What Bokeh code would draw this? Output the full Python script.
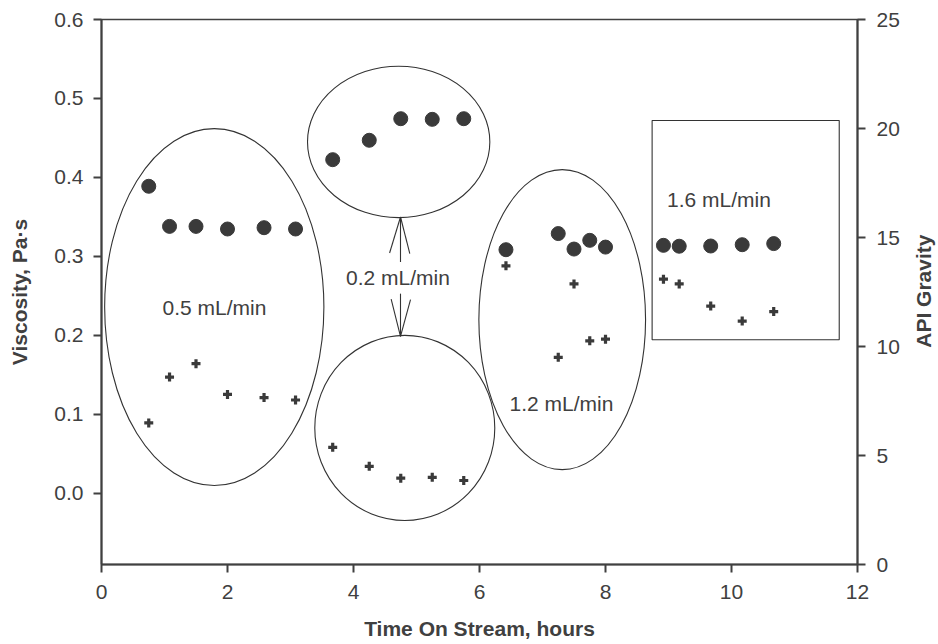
import math
from bokeh.plotting import figure
from bokeh.layouts import row
from bokeh.models import Range1d, LinearAxis, FixedTicker, NumeralTickFormatter
from bokeh.embed import file_html
from bokeh.resources import INLINE
from bokeh.core.properties import value

# ---- data ----
time_h = [0.75, 1.08, 1.50, 2.00, 2.58, 3.08, 3.67, 4.25, 4.75, 5.25, 5.75,
          6.42, 7.25, 7.50, 7.75, 8.00, 8.92, 9.17, 9.67, 10.17, 10.67]
api_gravity = [17.35, 15.51, 15.51, 15.39, 15.45, 15.39, 18.57, 19.46, 20.45, 20.42, 20.45,
               14.44, 15.18, 14.47, 14.87, 14.56, 14.64, 14.60, 14.61, 14.67, 14.72]
viscosity = [0.089, 0.147, 0.164, 0.125, 0.121, 0.118, 0.058, 0.034, 0.019, 0.020, 0.016,
             0.288, 0.172, 0.265, 0.193, 0.195, 0.271, 0.265, 0.237, 0.218, 0.230]

x_ticks = [0, 2, 4, 6, 8, 10, 12]
visc_ticks = [0.0, 0.1, 0.2, 0.3, 0.4, 0.5, 0.6]
api_ticks = [0, 5, 10, 15, 20, 25]

x_title = "Time On Stream, hours"
left_title = "Viscosity, Pa\u00b7s"
right_title = "API Gravity"

# annotation groups (in time / viscosity units)
ell_x = [1.79, 4.717, 4.814, 7.313]
ell_y = [0.2357, 0.4449, 0.0826, 0.2198]
ell_w = [3.48, 2.894, 2.857, 2.646]
ell_h = [0.452, 0.1918, 0.2345, 0.380]

box_left, box_right, box_top, box_bottom = [8.74], [11.71], [0.472], [0.1944]

label_text = ["0.5 mL/min", "0.2 mL/min", "1.2 mL/min", "1.6 mL/min"]
label_x = [1.794, 4.706, 7.30, 9.80]
label_y = [0.2357, 0.273, 0.114, 0.372]

# arrow segments (shafts and open heads)
arr_x0 = [4.746, 4.573, 4.894, 4.746, 4.598, 4.905]
arr_y0 = [0.2928, 0.3042, 0.3034, 0.2527, 0.2459, 0.2451]
arr_x1 = [4.746, 4.746, 4.746, 4.746, 4.746, 4.746]
arr_y1 = [0.3498, 0.3498, 0.3498, 0.1986, 0.1986, 0.1986]

INK = "#404040"
MARK = "#3a3a3a"
FONT = "Liberation Sans"

p = figure(width=905, height=644, output_backend="svg", toolbar_location=None,
           x_range=Range1d(0, 12), y_range=Range1d(-0.0904, 0.6),
           min_border_left=101, min_border_right=48, min_border_top=19, min_border_bottom=80)
p.extra_y_ranges = {"api": Range1d(0, 25)}

p.xgrid.visible = False
p.ygrid.visible = False
p.outline_line_color = INK
p.outline_line_width = 1.6
p.background_fill_color = "white"
p.border_fill_color = "white"

# axes
p.xaxis.ticker = FixedTicker(ticks=x_ticks)
p.yaxis.ticker = FixedTicker(ticks=visc_ticks)
p.yaxis.formatter = NumeralTickFormatter(format="0.0")
p.yaxis.axis_label = left_title
p.xaxis.axis_label = x_title

right = LinearAxis(y_range_name="api", ticker=FixedTicker(ticks=api_ticks))
p.add_layout(right, "right")

for ax in [p.xaxis[0], p.yaxis[0], right]:
    ax.axis_line_color = INK
    ax.axis_line_width = 2
    ax.major_tick_line_color = INK
    ax.major_tick_line_width = 2
    ax.major_tick_out = 8
    ax.major_tick_in = 0
    ax.minor_tick_line_color = None
    ax.major_label_text_font = FONT
    ax.major_label_text_font_size = "21px"
    ax.major_label_text_color = INK
    ax.axis_label_text_font = FONT
    ax.axis_label_text_font_size = "21px"
    ax.axis_label_text_font_style = "bold"
    ax.axis_label_text_color = INK
    ax.major_label_standoff = 10

p.xaxis.major_label_standoff = 12
p.xaxis.axis_label_standoff = 15
p.yaxis.axis_label_standoff = 20
right.major_label_standoff = 11

# group outlines
p.ellipse(x=ell_x, y=ell_y, width=ell_w, height=ell_h, fill_color=None,
          line_color="#333333", line_width=1.1)
p.quad(left=box_left, right=box_right, top=box_top, bottom=box_bottom,
       fill_color=None, line_color="#333333", line_width=1.1)
p.segment(x0=arr_x0, y0=arr_y0, x1=arr_x1, y1=arr_y1, line_color="#333333", line_width=1.1)

# labels
p.text(x=label_x, y=label_y, text=label_text, text_font=value(FONT),
       text_font_size="21px", text_color=INK, text_align="center", text_baseline="middle")

# data
p.scatter(x=time_h, y=api_gravity, y_range_name="api", marker="circle", size=14,
          fill_color=MARK, line_color=MARK)
p.scatter(x=time_h, y=viscosity, marker="cross", size=9, line_width=3.2,
          line_color=MARK)

# narrow strip holding the right-hand axis title (reads bottom to top)
t = figure(width=33, height=644, output_backend="svg", toolbar_location=None,
           x_range=Range1d(0, 33), y_range=Range1d(0, 644),
           x_axis_location=None, y_axis_location=None,
           min_border_left=0, min_border_right=0, min_border_top=0, min_border_bottom=0)
t.xgrid.visible = False
t.ygrid.visible = False
t.outline_line_color = None
t.background_fill_color = "white"
t.border_fill_color = "white"
t.text(x=[18], y=[323], text=[right_title], angle=math.pi / 2, text_font=value(FONT),
       text_font_size="21px", text_font_style="bold", text_color=INK,
       text_align="center", text_baseline="middle")

layout = row(p, t, spacing=0)
open("out.html", "w").write(file_html(layout, INLINE))
